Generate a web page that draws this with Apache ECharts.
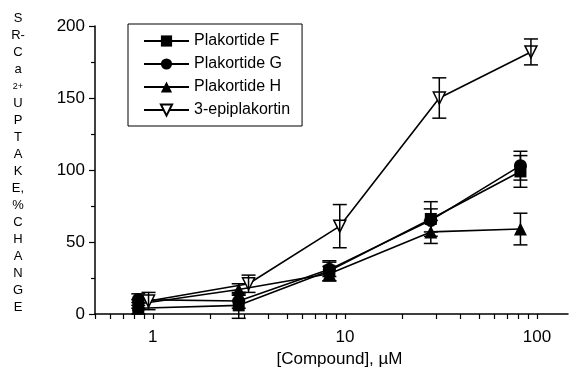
<!DOCTYPE html>
<html>
<head>
<meta charset="utf-8">
<script src="https://cdn.jsdelivr.net/npm/echarts@6/dist/echarts.min.js"></script>
<style>
  html, body { margin: 0; padding: 0; background: #fff; }
  #chart { width: 569px; height: 367px; }
</style>
</head>
<body>
<div id="chart"></div>
<script>
// concentrations (uM), the epiplakortin points sit a bit to the right
const xFilled = [0.84, 2.8, 8.3, 28, 82];
const xEpi = [0.95, 3.15, 9.4, 31, 93];

const plakF = [4, 6, 30, 66, 99];
const plakFErr = [4, 9, 7, 12, 11];
const plakG = [10, 9, 31, 65, 103];
const plakGErr = [4, 5, 5, 8, 10];
const plakH = [7, 17, 28, 57, 59];
const plakHErr = [3, 4, 5, 8, 11];
const epi = [9, 21, 61, 150, 182];
const epiErr = [6, 6, 15, 14, 9];

const xMinorTicks = [0.5, 0.6, 0.7, 0.8, 0.9, 1, 2, 3, 4, 5, 6, 7, 8, 9, 10,
  20, 30, 40, 50, 60, 70, 80, 90, 100];
const xLabels = [1, 10, 100];
const yLabelLines = ['S', 'R-', 'C', 'a', '{sup|2+}', 'U', 'P', 'T', 'A', 'K', 'E,', '%',
  'C', 'H', 'A', 'N', 'G', 'E'];

const font = 'Liberation Sans, Arial, Helvetica, sans-serif';

function pairs(xs, ys) {
  return xs.map((x, i) => [x, ys[i]]);
}
function errPairs(xs, ys, es) {
  return xs.map((x, i) => [x, ys[i] - es[i], ys[i] + es[i]]);
}

function renderErr(params, api) {
  const x = api.value(0);
  const top = api.coord([x, api.value(2)]);
  const bot = api.coord([x, api.value(1)]);
  const w = 7;
  const st = { stroke: '#000', lineWidth: 1.5 };
  return {
    type: 'group',
    children: [
      { type: 'line', shape: { x1: top[0], y1: top[1], x2: bot[0], y2: bot[1] }, style: st },
      { type: 'line', shape: { x1: top[0] - w, y1: top[1], x2: top[0] + w, y2: top[1] }, style: st },
      { type: 'line', shape: { x1: bot[0] - w, y1: bot[1], x2: bot[0] + w, y2: bot[1] }, style: st }
    ]
  };
}

function lineSerie(name, data, symbol, size, extra) {
  return Object.assign({
    name: name,
    type: 'line',
    data: data,
    symbol: symbol,
    symbolSize: size,
    z: 3,
    lineStyle: { color: '#000', width: 1.6 },
    itemStyle: { color: '#000', borderColor: '#000', borderWidth: 0 }
  }, extra || {});
}

function errSerie(data, z) {
  return {
    type: 'custom',
    renderItem: renderErr,
    data: data,
    z: z,
    silent: true
  };
}

const chart = echarts.init(document.getElementById('chart'));

const option = {
  animation: false,
  backgroundColor: '#fff',
  grid: { left: 95, top: 26, right: 1, bottom: 53, outerBoundsMode: 'none' },
  legend: {
    data: ['Plakortide F', 'Plakortide G', 'Plakortide H', '3-epiplakortin'],
    orient: 'vertical',
    left: 128,
    top: 24,
    padding: [9, 12, 8, 15],
    itemGap: 7,
    itemWidth: 45,
    itemHeight: 14,
    borderColor: '#000',
    borderWidth: 1,
    textStyle: { color: '#000', fontSize: 16, fontFamily: font }
  },
  xAxis: {
    type: 'log',
    logBase: 10,
    min: 0.5,
    max: 145,
    name: '[Compound], \u00b5M',
    nameLocation: 'middle',
    nameGap: 36,
    nameTextStyle: { color: '#000', fontSize: 17, fontFamily: font, padding: [0, 0, 0, 16] },
    splitLine: { show: false },
    axisLine: { lineStyle: { color: '#000', width: 1.5 } },
    axisTick: { length: 5, lineStyle: { color: '#000', width: 1.2 }, customValues: xMinorTicks },
    axisLabel: { color: '#000', fontSize: 17, fontFamily: font, margin: 15, customValues: xLabels }
  },
  yAxis: {
    type: 'value',
    min: 0,
    max: 200,
    interval: 50,
    name: yLabelLines.join('\n'),
    nameLocation: 'middle',
    nameRotate: 0,
    nameGap: 77,
    nameTextStyle: {
      color: '#000',
      fontSize: 13,
      fontFamily: font,
      lineHeight: 17,
      align: 'center',
      verticalAlign: 'middle',
      padding: [0, 0, 14, 0],
      rich: { sup: { fontSize: 9, lineHeight: 17, fontFamily: font, color: '#000' } }
    },
    splitLine: { show: false },
    axisLine: { show: true, lineStyle: { color: '#000', width: 1.5 } },
    axisTick: { length: 6, lineStyle: { color: '#000', width: 1.2 } },
    minorTick: { show: true, splitNumber: 2, length: 4, lineStyle: { color: '#000', width: 1.2 } },
    axisLabel: { color: '#000', fontSize: 17, fontFamily: font, margin: 10 }
  },
  series: [
    errSerie(errPairs(xFilled, plakF, plakFErr), 2),
    errSerie(errPairs(xFilled, plakG, plakGErr), 2),
    errSerie(errPairs(xFilled, plakH, plakHErr), 2),
    lineSerie('Plakortide F', pairs(xFilled, plakF), 'rect', 12),
    lineSerie('Plakortide G', pairs(xFilled, plakG), 'circle', 13),
    lineSerie('Plakortide H', pairs(xFilled, plakH), 'triangle', 13),
    lineSerie('3-epiplakortin', pairs(xEpi, epi), 'triangle', 12, {
      symbolRotate: 180,
      itemStyle: { color: '#fff', borderColor: '#000', borderWidth: 1.5 }
    }),
    errSerie(errPairs(xEpi, epi, epiErr), 5)
  ]
};

chart.setOption(option);
</script>
</body>
</html>
